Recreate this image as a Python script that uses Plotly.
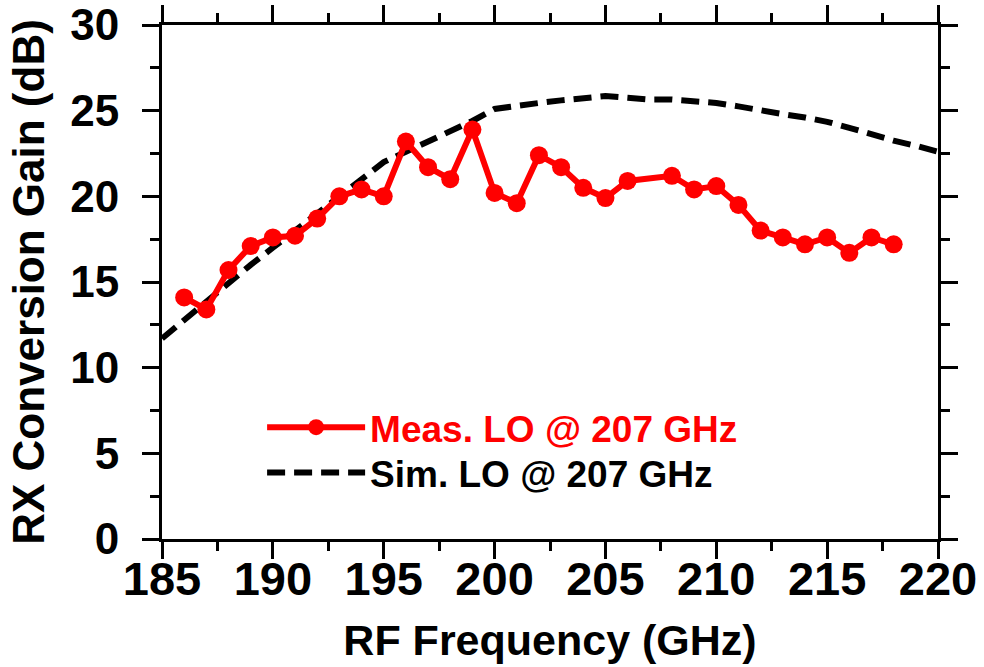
import plotly.graph_objects as go

# ---------------- data ----------------
meas_freq = [186, 187, 188, 189, 190, 191, 192, 193, 194, 195, 196, 197, 198, 199, 200,
             201, 202, 203, 204, 205, 206, 208, 209, 210, 211, 212, 213, 214, 215, 216,
             217, 218]
meas_gain = [14.1, 13.4, 15.7, 17.1, 17.6, 17.7, 18.7, 20.0, 20.4, 20.0, 23.2, 21.7, 21.0,
             23.9, 20.2, 19.6, 22.4, 21.7, 20.5, 19.9, 20.9, 21.2, 20.4, 20.6, 19.5, 18.0,
             17.6, 17.2, 17.6, 16.7, 17.6, 17.2]

sim_freq = [185, 186, 187, 188, 189, 190, 191, 192, 193, 194, 195, 196, 197, 198, 199, 200,
            201, 202, 203, 204, 205, 206, 207, 208, 209, 210, 211, 212, 213, 214, 215, 216,
            217, 218, 219, 220]
sim_gain = [11.7, 12.8, 13.9, 15.0, 16.0, 17.0, 18.0, 19.0, 20.0, 21.0, 22.0, 22.6, 23.2,
            23.8, 24.4, 25.1, 25.3, 25.45, 25.6, 25.75, 25.85, 25.75, 25.65, 25.65, 25.55,
            25.45, 25.25, 25.0, 24.8, 24.6, 24.35, 24.0, 23.6, 23.25, 22.95, 22.6]

meas_name = "Meas. LO @ 207 GHz"
sim_name = "Sim. LO @ 207 GHz"
x_title = "RF Frequency (GHz)"
y_title = "RX Conversion Gain (dB)"

FONT = "Liberation Sans, Arial, sans-serif"
RED = "#ff0000"

fig = go.Figure()
fig.add_trace(go.Scatter(
    x=sim_freq, y=sim_gain, mode="lines", name=sim_name, legend="legend2",
    line=dict(color="black", width=6, dash="18px,9px"),
))
fig.add_trace(go.Scatter(
    x=meas_freq, y=meas_gain, mode="lines+markers", name=meas_name, legend="legend",
    line=dict(color=RED, width=6),
    marker=dict(color=RED, size=18, symbol="circle"),
))

axis_common = dict(
    showline=True, linewidth=3, linecolor="black", mirror="allticks",
    ticks="outside", ticklen=17, tickwidth=3, tickcolor="black",
    showgrid=False, zeroline=False, automargin=False,
    minor=dict(ticks="outside", ticklen=9, tickwidth=3, tickcolor="black", dtick=2.5),
)

legend_common = dict(
    xanchor="left", yanchor="top", itemwidth=98, bgcolor="rgba(0,0,0,0)",
)

fig.update_layout(
    width=984, height=667,
    margin=dict(l=162, r=46, t=25, b=128, autoexpand=False),
    paper_bgcolor="white", plot_bgcolor="white",
    showlegend=True,
    legend=dict(x=0.129, y=0.277,
                font=dict(family=FONT, size=37, color=RED, weight="bold"),
                **legend_common),
    legend2=dict(x=0.129, y=0.1887,
                 font=dict(family=FONT, size=37, color="black", weight="bold"),
                 **legend_common),
    xaxis=dict(
        range=[185, 220], dtick=5, tick0=185,
        tickfont=dict(family=FONT, size=47, color="black", weight="bold"),
        ticklabelstandoff=-20,
        title=dict(text=x_title, standoff=21,
                   font=dict(family=FONT, size=43, color="black", weight="bold")),
        **axis_common,
    ),
    yaxis=dict(
        range=[0, 30], dtick=5, tick0=0,
        tickfont=dict(family=FONT, size=44, color="black", weight="bold"),
        ticklabelstandoff=14,
        title=dict(text=y_title, standoff=12,
                   font=dict(family=FONT, size=44, color="black", weight="bold")),
        **axis_common,
    ),
)

fig.write_html("out.html")
